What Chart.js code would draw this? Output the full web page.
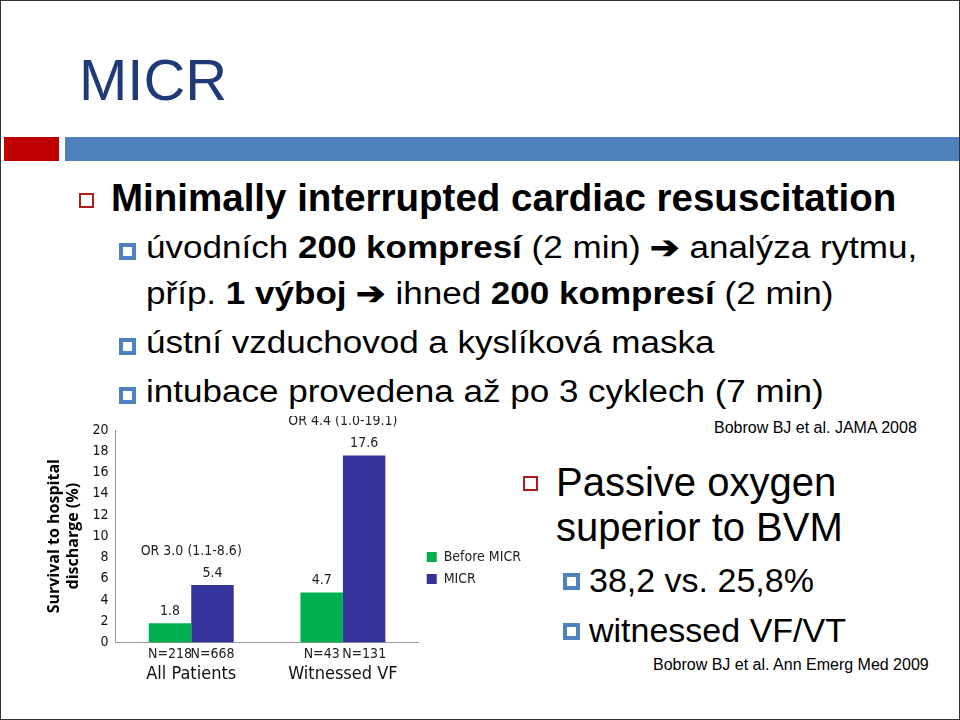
<!DOCTYPE html>
<html><head><meta charset="utf-8">
<script src="https://cdn.jsdelivr.net/npm/chart.js@4"></script>
<style>
body{margin:0;background:#fff;font-family:"Liberation Sans",Arial,sans-serif;}
#slide{position:relative;width:958px;height:718px;border:1px solid #333;overflow:hidden;}
.t{position:absolute;white-space:nowrap;line-height:1;}
.s{transform:scaleX(1.13);transform-origin:left center;}
.b1{position:absolute;width:11px;height:11px;border:2px solid #b01c1c;}
.b2{position:absolute;width:9px;height:9px;border:4px solid #4f81bd;background:#fff;}
</style></head><body>
<div id="slide">
  <div class="t" style="left:78px;top:50px;font-size:58px;color:#1f3a78;">MICR</div>
  <div style="position:absolute;left:3px;top:136px;width:55px;height:24px;background:#c00000"></div>
  <div style="position:absolute;left:64px;top:136px;width:900px;height:24px;background:#4f81bd"></div>

  <div class="b1" style="left:78px;top:192px"></div>
  <div class="t" style="left:110px;top:178px;font-size:38.5px;font-weight:bold;">Minimally interrupted cardiac resuscitation</div>
  <div class="b2" style="left:118px;top:242px"></div>
  <div class="t s" style="left:145px;top:231px;font-size:31px;">úvodních <b>200 kompresí</b> (2 min) <b>➔</b> analýza rytmu,</div>
  <div class="t s" style="left:145px;top:277px;font-size:31px;">příp. <b>1 výboj</b> <b>➔</b> ihned <b>200 kompresí</b> (2 min)</div>
  <div class="b2" style="left:118px;top:337px"></div>
  <div class="t s" style="left:145px;top:326px;font-size:31px;">ústní vzduchovod a kyslíková maska</div>
  <div class="b2" style="left:118px;top:386px"></div>
  <div class="t s" style="left:145px;top:375px;font-size:31px;">intubace provedena až po 3 cyklech (7 min)</div>
  <div class="t" style="left:713px;top:419px;font-size:16px;">Bobrow BJ et al. JAMA 2008</div>

  <div class="b1" style="left:522px;top:475px"></div>
  <div class="t" style="left:555px;top:461px;font-size:40px;">Passive oxygen</div>
  <div class="t" style="left:555px;top:506px;font-size:40px;">superior to BVM</div>
  <div class="b2" style="left:562px;top:572px"></div>
  <div class="t" style="left:588px;top:562px;font-size:34px;">38,2 vs. 25,8%</div>
  <div class="b2" style="left:562px;top:622px"></div>
  <div class="t" style="left:588px;top:612px;font-size:34px;">witnessed VF/VT</div>
  <div class="t" style="left:652px;top:656px;font-size:16px;">Bobrow BJ et al. Ann Emerg Med 2009</div>

  <div style="position:absolute;left:30px;top:415px;width:500px;height:290px;"><canvas id="c"></canvas></div>
</div>
<script>
// chart data
var groups = ["All Patients", "Witnessed VF"];
var beforeMicr = [1.8, 4.7];
var micr = [5.4, 17.6];
var beforeN = ["N=218", "N=43"];
var micrN = ["N=668", "N=131"];
var oddsRatios = ["OR 3.0 (1.1-8.6)", "OR 4.4 (1.0-19.1)"];
var yTicks = [0, 2, 4, 6, 8, 10, 12, 14, 16, 18, 20];

var FONT = "'DejaVu Sans Condensed', 'DejaVu Sans', Verdana, sans-serif";

// value labels, N= labels and odds ratios
var annot = {
  id: 'annot',
  afterDatasetsDraw: function(chart) {
    var ctx = chart.ctx;
    var bottom = chart.chartArea.bottom;
    ctx.save();
    ctx.fillStyle = '#222';
    ctx.textAlign = 'center';
    ctx.font = '14px ' + FONT;
    var nLabels = [beforeN, micrN];
    chart.data.datasets.forEach(function(ds, di) {
      chart.getDatasetMeta(di).data.forEach(function(bar, i) {
        ctx.textBaseline = 'bottom';
        ctx.fillText(ds.data[i].toFixed(1), bar.x, bar.y - 5);
        ctx.textBaseline = 'top';
        ctx.fillText(nLabels[di][i], bar.x, bottom + 5);
      });
    });
    ctx.textBaseline = 'bottom';
    var m1 = chart.getDatasetMeta(1).data;
    oddsRatios.forEach(function(t, i) {
      var x = (chart.getDatasetMeta(0).data[i].x + m1[i].x) / 2;
      ctx.fillText(t, x, m1[i].y - 27);
    });
    ctx.restore();
  }
};

new Chart(document.getElementById('c'), {
  type: 'bar',
  data: {
    labels: groups,
    datasets: [
      { label: 'Before MICR', data: beforeMicr, backgroundColor: '#00b050' },
      { label: 'MICR', data: micr, backgroundColor: '#333399' }
    ]
  },
  options: {
    responsive: true,
    maintainAspectRatio: false,
    animation: false,
    categoryPercentage: 0.56,
    barPercentage: 1,
    layout: { padding: { top: 14, right: 0, left: 8, bottom: 0 } },
    plugins: {
      legend: {
        position: 'right',
        labels: { boxWidth: 10, boxHeight: 10, padding: 8, color: '#222', font: { family: FONT, size: 14 } }
      },
      tooltip: { enabled: false }
    },
    scales: {
      x: {
        grid: { display: false, drawTicks: false },
        border: { color: '#999' },
        ticks: { color: '#111', padding: 21, font: { family: FONT, size: 18 } }
      },
      y: {
        min: 0, max: 20,
        afterBuildTicks: function(s) { s.ticks = yTicks.map(function(v) { return { value: v }; }); },
        grid: { display: false, tickLength: 4 },
        border: { color: '#999' },
        ticks: { color: '#111', font: { family: FONT, size: 14 } },
        title: { display: true, text: ['Survival to hospital', 'discharge (%)'], color: '#000',
                 font: { family: "'Open Sans', sans-serif", size: 16, weight: 'bold' }, padding: 6 }
      }
    }
  },
  plugins: [annot]
});
</script>
</body></html>
